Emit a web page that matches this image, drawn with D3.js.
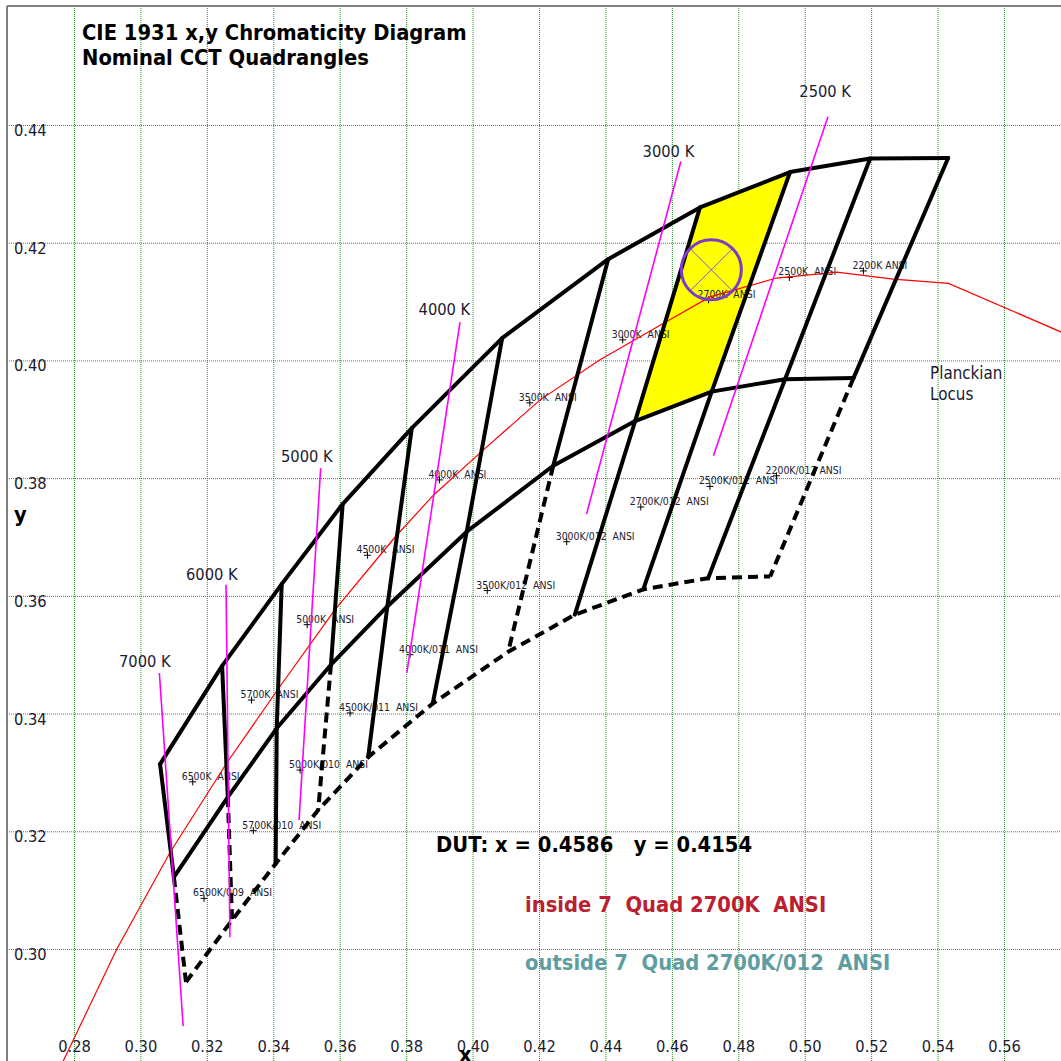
<!DOCTYPE html>
<html>
<head>
<meta charset="utf-8">
<script src="https://cdn.jsdelivr.net/npm/d3@7"></script>
<style>
  body { margin: 0; background: #fff; }
  svg { display: block; }
</style>
</head>
<body>
<div id="chart"></div>
<script>
const WIDTH = 1061, HEIGHT = 1061;

// quadrangle corner curves, CIE 1931 x / y (6500K ... 2200K)
const topX = [0.3031, 0.3206, 0.3374, 0.3546, 0.3741, 0.3996, 0.4295, 0.4554, 0.4808, 0.5034, 0.5254];
const topY = [0.3314, 0.3481, 0.3620, 0.3756, 0.3885, 0.4038, 0.4172, 0.4260, 0.4320, 0.4343, 0.4344];
const midX = [0.3070, 0.3222, 0.3360, 0.3513, 0.3672, 0.3896, 0.4140, 0.4371, 0.4587, 0.4794, 0.4987];
const midY = [0.3122, 0.3258, 0.3375, 0.3483, 0.3582, 0.3709, 0.3821, 0.3897, 0.3947, 0.3968, 0.3970];
const botX = [0.3104, 0.3234, 0.3357, 0.3477, 0.3618, 0.3800, 0.4013, 0.4201, 0.4394, 0.4577, 0.4752];
const botY = [0.2944, 0.3049, 0.3145, 0.3236, 0.3326, 0.3417, 0.3505, 0.3568, 0.3611, 0.3630, 0.3633];
const lowerDashed = [true, true, false, true, false, false, true, false, false, false, true];

// nominal quads (upper band)
const upperLabels = ["6500K  ANSI", "5700K  ANSI", "5000K  ANSI", "4500K  ANSI", "4000K  ANSI",
  "3500K  ANSI", "3000K  ANSI", "2700K  ANSI", "2500K  ANSI", "2200K ANSI"];
const upperX = [0.3123, 0.3289, 0.3446, 0.3616, 0.3819, 0.4074, 0.4336, 0.4578, 0.4806, 0.5015];
const upperY = [0.3284, 0.3423, 0.3551, 0.3669, 0.3797, 0.3928, 0.4035, 0.4103, 0.4141, 0.4152];

// lower band quads
const lowerLabels = ["6500K/009  ANSI", "5700K/010  ANSI", "5000K/010  ANSI", "4500K/011  ANSI", "4000K/011  ANSI",
  "3500K/012  ANSI", "3000K/012  ANSI", "2700K/012  ANSI", "2500K/012  ANSI", "2200K/012 ANSI"];
const lowerX = [0.3155, 0.3294, 0.3426, 0.3567, 0.3736, 0.3954, 0.4178, 0.4387, 0.4582, 0.4770];
const lowerY = [0.3086, 0.3201, 0.3304, 0.3401, 0.3500, 0.3609, 0.3692, 0.3751, 0.3786, 0.3804];

// isotherms
const isoLabels = ["2500 K", "3000 K", "4000 K", "5000 K", "6000 K", "7000 K"];
const isoTopX = [0.4915, 0.4500, 0.3877, 0.3484, 0.3217, 0.3029];
const isoTopY = [0.4414, 0.4338, 0.4065, 0.3817, 0.3619, 0.3469];
const isoBotX = [0.4592, 0.4234, 0.3727, 0.3423, 0.3228, 0.3096];
const isoBotY = [0.3838, 0.3739, 0.3469, 0.3219, 0.3020, 0.2869];
const isoLabelX = [0.4907, 0.4465, 0.3833, 0.3445, 0.3177, 0.2988];
const isoLabelY = [0.4448, 0.4346, 0.4077, 0.3828, 0.3627, 0.3479];

// planckian locus
const locusX = [0.2750, 0.2909, 0.3059, 0.3219, 0.3369, 0.3524, 0.3694, 0.3802, 0.3943, 0.4103,
  0.4272, 0.4460, 0.4582, 0.4770, 0.4940, 0.5099, 0.5255, 0.5612];
const locusY = [0.2800, 0.3000, 0.3164, 0.3316, 0.3446, 0.3576, 0.3700, 0.3771, 0.3848, 0.3933,
  0.4001, 0.4066, 0.4108, 0.4140, 0.4150, 0.4138, 0.4131, 0.4038];

// device under test
const dutX = 0.4586, dutY = 0.4154;
const selectedQuad = 7; // 2700K
const insideText = "inside 7  Quad 2700K  ANSI";
const outsideText = "outside 7  Quad 2700K/012  ANSI";

const xTickValues = [0.28, 0.30, 0.32, 0.34, 0.36, 0.38, 0.40, 0.42, 0.44, 0.46, 0.48, 0.50, 0.52, 0.54, 0.56];
const yTickValues = [0.30, 0.32, 0.34, 0.36, 0.38, 0.40, 0.42, 0.44];

const FONT = "'DejaVu Sans', Verdana, sans-serif";
const GRID_COLOR = "#1f9a1f";
const SQUEEZE = 0.89; // Tahoma is a narrow Verdana

const svg = d3.select("#chart")
  .append("svg")
  .attr("xmlns", "http://www.w3.org/2000/svg")
  .attr("width", WIDTH)
  .attr("height", HEIGHT)
  .attr("viewBox", `0 0 ${WIDTH} ${HEIGHT}`)
  .attr("font-family", FONT);

svg.append("rect")
  .attr("width", WIDTH)
  .attr("height", HEIGHT)
  .attr("fill", "#fff");

// data scales
const x = d3.scaleLinear().domain([0.28, 0.56]).range([78.2, 1070.8]);
const y = d3.scaleLinear().domain([0.30, 0.44]).range([949, 125]);
// the original draws its x grid and labels on a slightly narrower scale
const xGrid = d3.scaleLinear().domain([0.28, 0.56]).range([74, 1004]);

svg.append("defs").append("clipPath").attr("id", "plot")
  .append("rect").attr("x", 7).attr("y", 6).attr("width", WIDTH - 7).attr("height", HEIGHT - 6);

const plot = svg.append("g").attr("clip-path", "url(#plot)");

// グリッド
plot.append("g")
  .attr("transform", `translate(0,${HEIGHT})`)
  .call(d3.axisBottom(xGrid).tickValues(xTickValues).tickSize(-(HEIGHT - 6)).tickFormat(""))
  .call(g => g.select(".domain").remove())
  .selectAll("line")
  .attr("stroke", GRID_COLOR)
  .attr("stroke-dasharray", "1,1");

plot.append("g")
  .attr("transform", "translate(7,0)")
  .call(d3.axisRight(y).tickValues(yTickValues).tickSize(WIDTH - 7).tickFormat(""))
  .call(g => g.select(".domain").remove())
  .selectAll("line")
  .attr("stroke", GRID_COLOR)
  .attr("stroke-dasharray", "1,1");

// frame
svg.append("line").attr("x1", 7).attr("y1", 6).attr("x2", 7).attr("y2", HEIGHT)
  .attr("stroke", "#808080").attr("stroke-width", 2);
svg.append("line").attr("x1", 7).attr("y1", 6).attr("x2", WIDTH).attr("y2", 6)
  .attr("stroke", "#808080").attr("stroke-width", 2);

// tick labels
svg.append("g")
  .attr("transform", "translate(0,1040)")
  .call(d3.axisBottom(xGrid).tickValues(xTickValues).tickSize(0).tickPadding(0).tickFormat(d3.format(".2f")))
  .call(g => g.select(".domain").remove())
  .attr("font-family", FONT)
  .attr("font-size", 16.5)
  .selectAll("text").attr("fill", "#1a1a30");

svg.append("g")
  .attr("transform", "translate(14,0)")
  .call(d3.axisRight(y).tickValues(yTickValues).tickSize(0).tickPadding(0).tickFormat(d3.format(".2f")))
  .call(g => g.select(".domain").remove())
  .attr("font-family", FONT)
  .attr("font-size", 16.5)
  .selectAll("text").attr("dy", 10.5).attr("fill", "#1a1a30");

// selected quad
const quadPts = [
  [topX[selectedQuad], topY[selectedQuad]],
  [topX[selectedQuad + 1], topY[selectedQuad + 1]],
  [midX[selectedQuad + 1], midY[selectedQuad + 1]],
  [midX[selectedQuad], midY[selectedQuad]]
];
plot.append("polygon")
  .attr("points", quadPts.map(d => [x(d[0]), y(d[1])].join(",")).join(" "))
  .attr("fill", "#ffff00");

// quad names + centre marks
const marks = upperLabels.map((t, i) => ({ t, cx: upperX[i], cy: upperY[i] }))
  .concat(lowerLabels.map((t, i) => ({ t, cx: lowerX[i], cy: lowerY[i] })));

plot.append("g")
  .selectAll("text")
  .data(marks)
  .enter()
  .append("text")
  .attr("x", d => x(d.cx) - 11)
  .attr("y", d => y(d.cy) - 2)
  .attr("font-size", 10.5)
  .attr("fill", "#202030")
  .style("white-space", "pre")
  .text(d => d.t);

plot.append("g")
  .selectAll("path")
  .data(marks)
  .enter()
  .append("path")
  .attr("d", d => {
    const px = x(d.cx), py = y(d.cy);
    return `M${px - 3.5},${py}H${px + 3.5}M${px},${py - 3.5}V${py + 3.5}`;
  })
  .attr("stroke", "#000")
  .attr("stroke-width", 1);

// Planckian locus
const line = d3.line().x(d => x(d[0])).y(d => y(d[1]));
plot.append("path")
  .datum(locusX.map((v, i) => [v, locusY[i]]))
  .attr("fill", "none")
  .attr("stroke", "#ff0000")
  .attr("stroke-width", 1.2)
  .attr("d", line);

// quadrangle outlines
const idx = d3.range(topX.length);
const solid = g => g.attr("fill", "none").attr("stroke", "#000").attr("stroke-width", 4)
  .attr("stroke-linecap", "round").attr("stroke-linejoin", "round");

plot.append("path").datum(idx.map(i => [topX[i], topY[i]])).call(solid).attr("d", line);
plot.append("path").datum(idx.map(i => [midX[i], midY[i]])).call(solid).attr("d", line);
plot.append("path").datum(idx.map(i => [botX[i], botY[i]])).call(solid)
  .attr("stroke-linecap", "butt").attr("stroke-dasharray", "10,6").attr("d", line);

plot.append("g")
  .selectAll("path")
  .data(idx)
  .enter()
  .append("path")
  .datum(i => [[topX[i], topY[i]], [midX[i], midY[i]]])
  .call(solid)
  .attr("d", line);

plot.append("g")
  .selectAll("path")
  .data(idx)
  .enter()
  .append("path")
  .call(solid)
  .attr("stroke-dasharray", i => lowerDashed[i] ? "10,6" : null)
  .attr("stroke-linecap", i => lowerDashed[i] ? "butt" : "round")
  .attr("d", i => line([[midX[i], midY[i]], [botX[i], botY[i]]]));

// isotherms
plot.append("g")
  .selectAll("line")
  .data(isoLabels)
  .enter()
  .append("line")
  .attr("x1", (d, i) => x(isoTopX[i]))
  .attr("y1", (d, i) => y(isoTopY[i]))
  .attr("x2", (d, i) => x(isoBotX[i]))
  .attr("y2", (d, i) => y(isoBotY[i]))
  .attr("stroke", "#ff00ff")
  .attr("stroke-width", 1.6);

plot.append("g")
  .selectAll("text")
  .data(isoLabels)
  .enter()
  .append("text")
  .attr("x", (d, i) => x(isoLabelX[i]))
  .attr("y", (d, i) => y(isoLabelY[i]))
  .attr("text-anchor", "middle")
  .attr("font-size", 16.5)
  .attr("fill", "#1a1a30")
  .text(d => d);

plot.append("text")
  .attr("x", x(0.5203))
  .attr("y", y(0.3968))
  .attr("font-size", 17)
  .attr("fill", "#1a1a30")
  .call(t => t.append("tspan").text("Planckian"))
  .call(t => t.append("tspan").attr("x", x(0.5203)).attr("dy", 21).text("Locus"));

// DUT marker
const cx = x(dutX), cy = y(dutY), r = 30, k = r * Math.SQRT1_2;
plot.append("path")
  .attr("d", `M${cx - k},${cy - k}L${cx + k},${cy + k}M${cx - k},${cy + k}L${cx + k},${cy - k}`)
  .attr("stroke", "#8a55d0")
  .attr("stroke-width", 1);
plot.append("circle")
  .attr("cx", cx)
  .attr("cy", cy)
  .attr("r", r)
  .attr("fill", "none")
  .attr("stroke", "#7d3cc8")
  .attr("stroke-width", 3);

// タイトル・結果
const bold = (tx, ty, str, color) => svg.append("text")
  .attr("x", tx).attr("y", ty)
  .attr("font-size", 22).attr("font-weight", "bold")
  .attr("fill", color)
  .style("white-space", "pre")
  .text(str);

bold(82, 40, "CIE 1931 x,y Chromaticity Diagram", "#000");
bold(82, 65, "Nominal CCT Quadrangles", "#000");
bold(436, 852, `DUT: x = ${dutX.toFixed(4)}   y = ${dutY.toFixed(4)}`, "#000");
bold(525, 911.5, insideText, "#bb2030");
bold(525, 970, outsideText, "#5f9ea0");
bold(14, 522, "y", "#000");
bold(459, 1062, "x", "#000");

// Tahoma-like narrowing
svg.selectAll("text").each(function () {
  if (this.querySelector("tspan")) {
    d3.select(this).selectAll("tspan").each(function () {
      const w = this.getComputedTextLength();
      d3.select(this).attr("textLength", w * SQUEEZE).attr("lengthAdjust", "spacingAndGlyphs");
    });
    return;
  }
  const w = this.getComputedTextLength();
  if (w > 0) d3.select(this).attr("textLength", w * SQUEEZE).attr("lengthAdjust", "spacingAndGlyphs");
});
</script>
</body>
</html>
